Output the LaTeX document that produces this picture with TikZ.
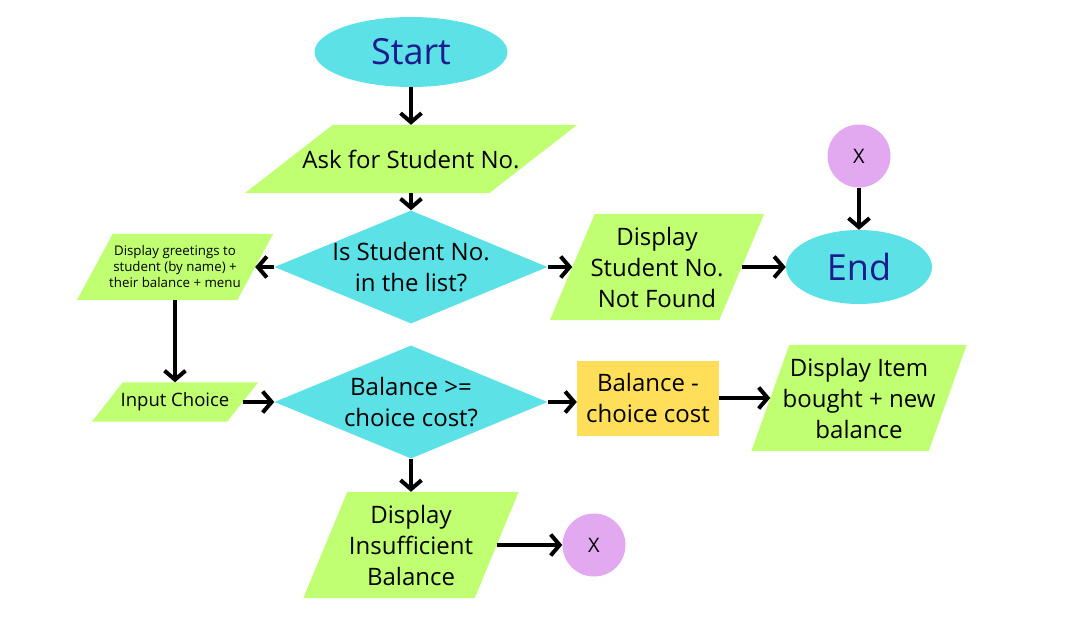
\documentclass[tikz,border=0pt]{standalone}
\usepackage{fontspec}
\setmainfont{Open Sans}
\usetikzlibrary{shapes.geometric, arrows.meta, backgrounds}
\definecolor{flowcyan}{HTML}{5CE1E6}
\definecolor{flowgreen}{HTML}{C1FF72}
\definecolor{flowyellow}{HTML}{FFDE59}
\definecolor{flowpurple}{HTML}{E2A9F1}
\definecolor{flownavy}{HTML}{1C1C8E}
\begin{document}
\begin{tikzpicture}[x=1pt, y=-1pt,
  term/.style={ellipse, fill=flowcyan, text=flownavy, inner sep=0pt, font=\fontsize{36}{40}\selectfont},
  io/.style={rectangle, align=center, inner sep=0pt, font=\fontsize{24}{31}\selectfont},
  choice/.style={diamond, aspect=2.42, fill=flowcyan, align=center, inner sep=-6pt,
    minimum width=273pt, minimum height=113pt, font=\fontsize{24}{31}\selectfont},
  conn/.style={circle, fill=flowpurple, minimum size=63pt, inner sep=0pt, font=\fontsize{20}{22}\selectfont},
  flow/.style={-{Straight Barb[length=9pt, width=21pt]}, line width=4pt}]
  \useasboundingbox (0,0) rectangle (1080,632);
  \node[term, minimum width=193pt, minimum height=70pt] (start) at (411,52) {Start};
  \node[io, minimum width=244pt, minimum height=68pt] (ask) at (411,159) {Ask for Student No.};
  \node[choice] (q1) at (411,267) {Is Student No.\\ in the list?};
  \node[io, minimum width=160pt, minimum height=66pt, font=\fontsize{13.3}{16}\selectfont] (greet) at (175,267)
    {Display greetings to\\ student (by name) +\\ their balance + menu};
  \node[io, minimum width=169pt, minimum height=106pt] (notfound) at (657,267) {Display\\ Student No.\\ Not Found};
  \node[term, minimum width=146pt, minimum height=74pt] (end) at (859,267) {End};
  \node[conn] (xtop) at (859,156) {X};
  \node[io, minimum width=135pt, minimum height=39pt, font=\fontsize{18.5}{22}\selectfont] (input) at (175,402) {Input Choice};
  \node[choice] (q2) at (411,402) {Balance >=\\ choice cost?};
  \node[rectangle, fill=flowyellow, minimum width=142pt, minimum height=75pt, align=center, inner sep=0pt,
    font=\fontsize{24}{31}\selectfont] (calc) at (648,398) {Balance -\\ choice cost};
  \node[io, minimum width=177pt, minimum height=106pt] (item) at (859,398) {Display Item\\ bought + new\\ balance};
  \node[io, minimum width=171pt, minimum height=106pt] (insuff) at (411,545) {Display\\ Insufficient\\ Balance};
  \node[conn] (xbot) at (594,545) {X};
  \begin{scope}[on background layer]
    \foreach \n/\o in {ask/88, greet/36, notfound/45, input/31, item/38, insuff/44}
      \fill[flowgreen] ([xshift=0.5*\o pt]\n.north west) -- ([xshift=0.5*\o pt]\n.north east)
        -- ([xshift=-0.5*\o pt]\n.south east) -- ([xshift=-0.5*\o pt]\n.south west) -- cycle;
  \end{scope}
  \draw[flow] (start) -- (ask);
  \draw[flow] (ask) -- (q1);
  \draw[flow] (q1) -- (greet);
  \draw[flow] (q1) -- (notfound);
  \draw[flow] (notfound) -- (end);
  \draw[flow] (xtop) -- (end);
  \draw[flow] (greet) -- (input);
  \draw[flow] (input) -- (q2);
  \draw[flow] (q2.east) -- (q2.east -| calc.west);
  \draw[flow] (calc) -- (item);
  \draw[flow] (q2) -- (insuff);
  \draw[flow] (insuff) -- (xbot);
\end{tikzpicture}
\end{document}
